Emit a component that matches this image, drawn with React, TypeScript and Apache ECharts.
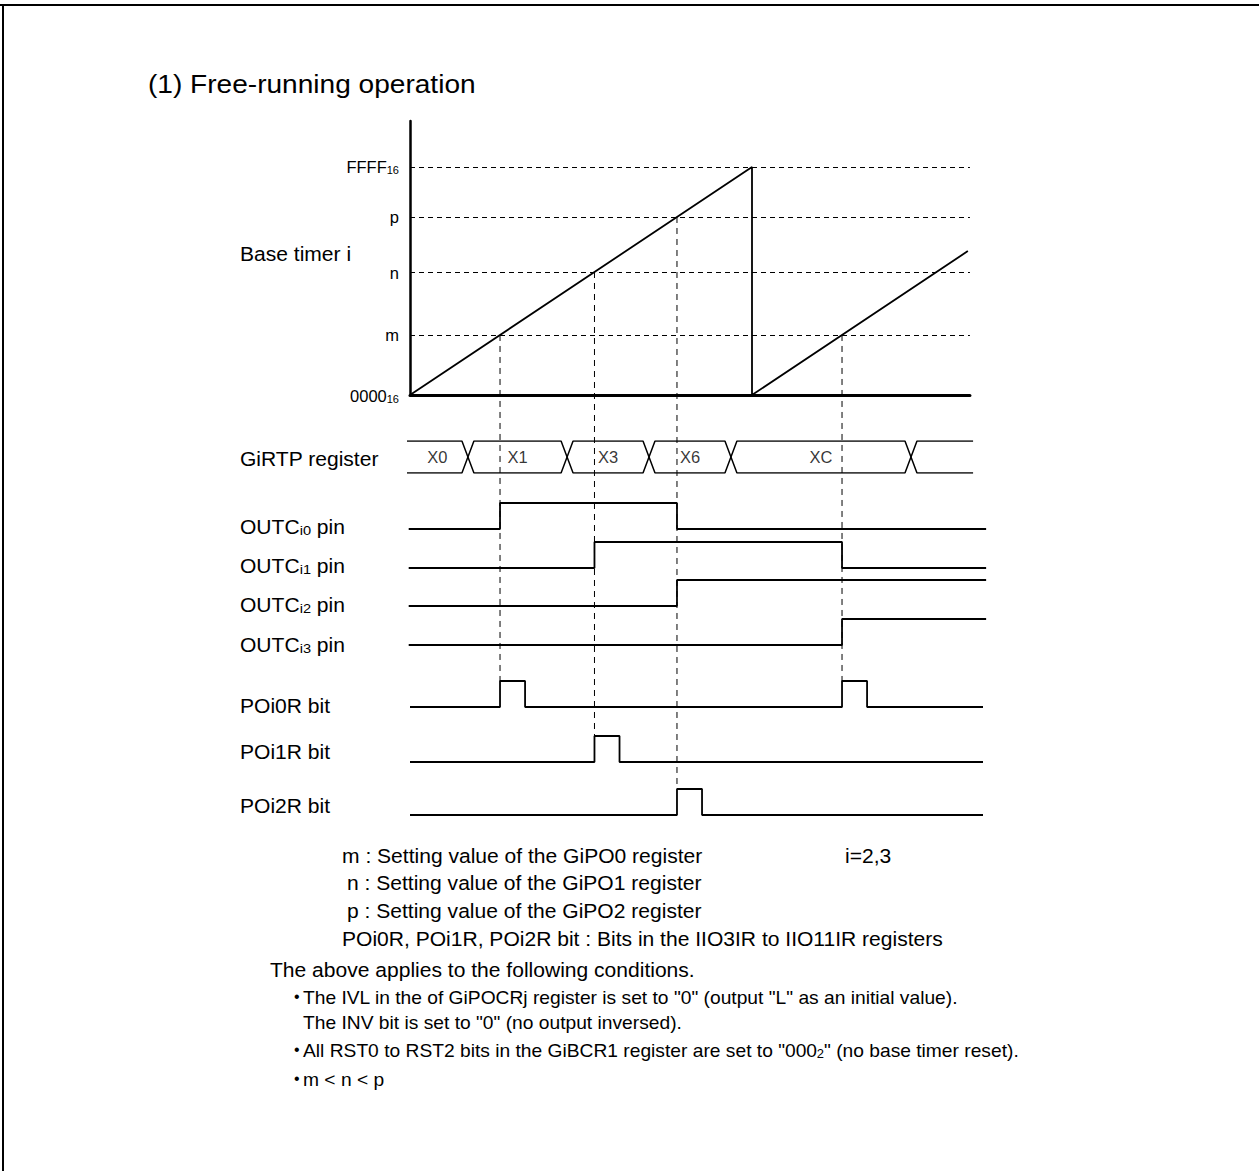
import React, { useEffect, useRef } from 'react';
import * as echarts from 'echarts';

const FONT = '"Liberation Sans", Arial, Helvetica, sans-serif';

// ---- data ----
const TIMER_TOP = 65535;
const M_VAL = 17250;
const N_VAL = 35350;
const P_VAL = 51160;
const TIMER_LEVELS = [0, M_VAL, N_VAL, P_VAL, TIMER_TOP];
const TIMER_LABELS = ['0000', 'm', 'n', 'p', 'FFFF'];
const TIMER_LABEL_SUBS = ['16', '', '', '', '16'];
const TIMER_TRACE = [[0, 0], [65535, 65535], [65535, 0], [106900, 41370]];

const BUS_NAME = 'GiRTP register';
const BUS_CHANGES = [11100, 30100, 45800, 61500, 96000];
const BUS_VALUES = ['X0', 'X1', 'X3', 'X6', 'XC', ''];
const BUS_START = -575;
const BUS_END = 107900;

const ROW_NAMES = ['OUTC', 'OUTC', 'OUTC', 'OUTC', 'POi0R bit', 'POi1R bit', 'POi2R bit'];
const ROW_SUBS = ['i0', 'i1', 'i2', 'i3', '', '', ''];
const ROW_SUFFIX = [' pin', ' pin', ' pin', ' pin', '', '', ''];
const OUTC0 = [[-250, 0], [17250, 1], [51160, 0], [110400, 0]];
const OUTC1 = [[-250, 0], [35350, 1], [82785, 0], [110400, 0]];
const OUTC2 = [[-250, 0], [51160, 1], [110400, 1]];
const OUTC3 = [[-250, 0], [82785, 1], [110400, 1]];
const POI0R = [[0, 0], [17250, 1], [22050, 0], [82785, 1], [87585, 0], [109800, 0]];
const POI1R = [[0, 0], [35350, 1], [40150, 0], [109800, 0]];
const POI2R = [[0, 0], [51160, 1], [55960, 0], [109800, 0]];
const ROWS = [OUTC0, OUTC1, OUTC2, OUTC3, POI0R, POI1R, POI2R];

// guides: [time, timer value, row index of the bit row they end on]
const GUIDES = [[17250, 17250, 4], [35350, 35350, 5], [51160, 51160, 6], [82785, 17250, 4]];

const TITLE = '(1) Free-running operation';
const TIMER_NAME = 'Base timer i';
const NOTES = [
  'm : Setting value of the GiPO0 register',
  'n : Setting value of the GiPO1 register',
  'p : Setting value of the GiPO2 register',
  'POi0R, POi1R, POi2R bit : Bits in the IIO3IR to IIO11IR registers',
];
const NOTE_SIDE = 'i=2,3';
const COND_LEAD = 'The above applies to the following conditions.';
const CONDS = [
  'The IVL in the of GiPOCRj register is set to "0" (output "L" as an initial value).',
  'The INV bit is set to "0" (no output inversed).',
  'All RST0 to RST2 bits in the GiBCR1 register are set to "000{s|2}" (no base timer reset).',
  'm < n < p',
];
const COND_BULLET = [true, false, true, true];

// ---- layout ----
const X0PX = 410;
const PX_PER_COUNT = 342 / 65535;
const CROSS = 1150;
const ROW_TOPS = [503, 542, 580, 619, 681, 736, 789];
const ROW_H = 26;
const ROW_LABEL_Y = [527, 566, 605, 645, 706, 752, 806];
const LABEL_X = 240;
const NOTE_POS = [[342, 856], [347, 883], [347, 911], [342, 939]];
const COND_POS = [[303, 998], [303, 1023], [303, 1051], [303, 1080]];
const SX = 1.08;

function gridBox(min: number, max: number, top: number, height: number) {
  return {
    left: X0PX + min * PX_PER_COUNT,
    width: (max - min) * PX_PER_COUNT,
    top,
    height,
    containLabel: false,
    outerBoundsMode: 'none',
  };
}

function hiddenX(i: number, min: number, max: number) {
  return { type: 'value', gridIndex: i, min, max, show: false };
}
function hiddenY(i: number) {
  return { type: 'value', gridIndex: i, min: 0, max: 1, show: false };
}

export default function App() {
  const ref = useRef<HTMLDivElement>(null);
  useEffect(() => {
    document.body.style.margin = '0';
    const chart = echarts.init(ref.current!, null, { renderer: 'svg' });

    const grids: any[] = [];
    const xAxes: any[] = [];
    const yAxes: any[] = [];
    const series: any[] = [];

    // timer grid 0
    const TMIN = 0, TMAX = 107300;
    grids.push(gridBox(TMIN, TMAX, 121, 274));
    xAxes.push({
      type: 'value', gridIndex: 0, min: TMIN, max: TMAX,
      axisLine: { show: true, lineStyle: { color: '#000', width: 3 } },
      axisTick: { show: false }, axisLabel: { show: false }, splitLine: { show: false },
    });
    yAxes.push({
      type: 'value', gridIndex: 0, min: 0, max: 78750,
      axisLine: { show: true, lineStyle: { color: '#000', width: 2.5 } },
      axisTick: { show: false }, splitLine: { show: false },
      axisLabel: {
        show: true,
        customValues: TIMER_LEVELS,
        margin: 11,
        color: '#000',
        fontFamily: FONT,
        fontSize: 16.5,
        formatter: (v: number) => {
          const i = TIMER_LEVELS.indexOf(v);
          if (i < 0) return '';
          return '{a|' + TIMER_LABELS[i] + '}' + (TIMER_LABEL_SUBS[i] ? '{s|' + TIMER_LABEL_SUBS[i] + '}' : '');
        },
        rich: {
          a: { fontFamily: FONT, fontSize: 16.5, color: '#000', lineHeight: 16, verticalAlign: 'top' },
          s: { fontFamily: FONT, fontSize: 11, color: '#000', lineHeight: 11, verticalAlign: 'top', padding: [6, 0, 0, 0] },
        },
      },
    });
    series.push({
      type: 'line', xAxisIndex: 0, yAxisIndex: 0, data: TIMER_TRACE,
      symbol: 'none', silent: true,
      lineStyle: { color: '#000', width: 1.8 },
      markLine: {
        silent: true, symbol: ['none', 'none'],
        label: { show: false },
        lineStyle: { color: '#000', width: 1, type: [5, 4] },
        data: TIMER_LEVELS.slice(1).map((v) => ({ yAxis: v })),
      },
    });

    // bus grid 1
    grids.push(gridBox(BUS_START, BUS_END, 441, 32));
    xAxes.push(hiddenX(1, BUS_START, BUS_END));
    yAxes.push(hiddenY(1));
    const pathA: number[][] = [[BUS_START, 1]];
    const pathB: number[][] = [[BUS_START, 0]];
    let la = 1, lb = 0;
    BUS_CHANGES.forEach((c) => {
      pathA.push([c - CROSS, la]); la = 1 - la; pathA.push([c + CROSS, la]);
      pathB.push([c - CROSS, lb]); lb = 1 - lb; pathB.push([c + CROSS, lb]);
    });
    pathA.push([BUS_END, la]);
    pathB.push([BUS_END, lb]);
    [pathA, pathB].forEach((p) => series.push({
      type: 'line', xAxisIndex: 1, yAxisIndex: 1, data: p, symbol: 'none', silent: true,
      lineStyle: { color: '#000', width: 1.5 },
    }));
    const bounds = [BUS_START, ...BUS_CHANGES, BUS_END];
    series.push({
      type: 'scatter', xAxisIndex: 1, yAxisIndex: 1, symbolSize: 0, silent: true,
      data: BUS_VALUES.map((v, i) => [(bounds[i] + bounds[i + 1]) / 2, 0.5, v]).filter((d) => d[2] !== ''),
      label: {
        show: true, position: 'inside', color: '#000', fontFamily: FONT, fontSize: 16.5,
        formatter: (p: any) => p.data[2],
      },
    });

    // digital rows
    const RMIN = -250, RMAX = 110400;
    ROWS.forEach((row, k) => {
      const gi = 2 + k;
      grids.push(gridBox(RMIN, RMAX, ROW_TOPS[k], ROW_H));
      xAxes.push(hiddenX(gi, RMIN, RMAX));
      yAxes.push(hiddenY(gi));
      series.push({
        type: 'line', xAxisIndex: gi, yAxisIndex: gi, data: row, step: 'end',
        symbol: 'none', silent: true, lineStyle: { color: '#000', width: 1.8 },
      });
    });

    chart.setOption({
      animation: false,
      backgroundColor: '#fff',
      grid: grids, xAxis: xAxes, yAxis: yAxes, series,
    });

    // graphics
    const els: any[] = [];
    els.push({ type: 'line', shape: { x1: 0, y1: 5, x2: 1259, y2: 5 }, style: { stroke: '#000', lineWidth: 2 } });
    els.push({ type: 'line', shape: { x1: 3, y1: 4, x2: 3, y2: 1171 }, style: { stroke: '#000', lineWidth: 2 } });

    GUIDES.forEach(([t, v, r]) => {
      const top = chart.convertToPixel({ xAxisIndex: 0, yAxisIndex: 0 } as any, [t, v]) as number[];
      const gi = 2 + r;
      const bot = chart.convertToPixel({ xAxisIndex: gi, yAxisIndex: gi } as any, [t, 1]) as number[];
      els.push({
        type: 'line', silent: true,
        shape: { x1: top[0], y1: top[1], x2: bot[0], y2: bot[1] },
        style: { stroke: '#000', lineWidth: 1, lineDash: [6, 5] },
      });
    });

    const txt = (text: string, x: number, y: number, size: number, extra: any = {}, sx = SX) => ({
      type: 'text', silent: true, x, y, scaleX: sx, scaleY: 1,
      style: { text, fontFamily: FONT, fontSize: size, fill: '#000', verticalAlign: 'middle', align: 'left', ...extra },
    });

    els.push(txt(TITLE, 148, 84, 26));
    els.push(txt(TIMER_NAME, LABEL_X, 254, 19.5));
    els.push(txt(BUS_NAME, LABEL_X, 459, 19.5));
    ROW_NAMES.forEach((n, k) => {
      const text = ROW_SUBS[k]
        ? '{a|' + n + '}{s|' + ROW_SUBS[k] + '}{a|' + ROW_SUFFIX[k] + '}'
        : '{a|' + n + '}';
      els.push(txt(text, LABEL_X, ROW_LABEL_Y[k], 19.5, {
        rich: {
          a: { fontFamily: FONT, fontSize: 19.5, fill: '#000', verticalAlign: 'bottom' },
          s: { fontFamily: FONT, fontSize: 13.5, fill: '#000', verticalAlign: 'bottom' },
        },
      }));
    });
    NOTES.forEach((n, k) => els.push(txt(n, NOTE_POS[k][0], NOTE_POS[k][1], 19.5)));
    els.push(txt(NOTE_SIDE, 845, 856, 19.5));
    els.push(txt(COND_LEAD, 270, 970, 19.5));
    CONDS.forEach((c, k) => {
      if (COND_BULLET[k]) els.push(txt('\u2022', 294, COND_POS[k][1] - 2, 16, {}, 1));
      els.push(txt(c, COND_POS[k][0], COND_POS[k][1], 17.8, {
        rich: {
          s: { fontFamily: FONT, fontSize: 12, fill: '#000', verticalAlign: 'top', padding: [7, 0, 0, 0] },
        },
      }));
    });

    chart.setOption({ graphic: { elements: els } });

    return () => chart.dispose();
  }, []);
  return <div ref={ref} style={{ width: 1259, height: 1171, background: '#fff' }} />;
}
